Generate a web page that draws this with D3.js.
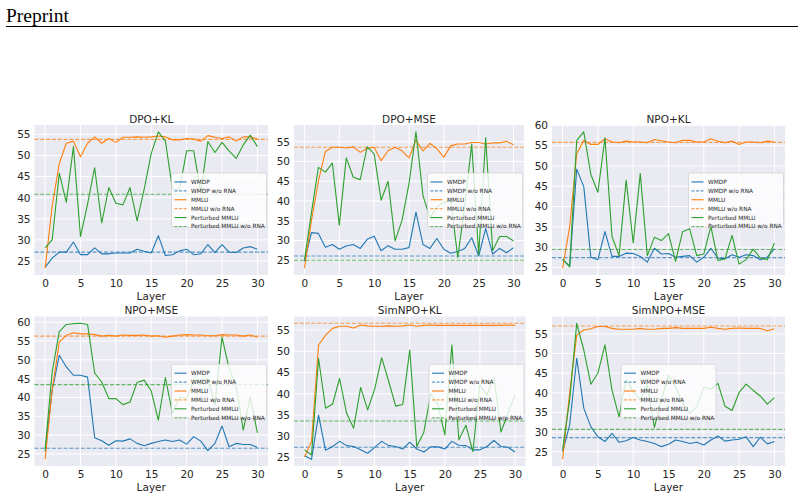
<!DOCTYPE html>
<html>
<head>
<meta charset="utf-8">
<script src="https://cdn.jsdelivr.net/npm/d3@7"></script>
<style>
  body { margin: 0; background: #fff; }
  svg { display: block; }
</style>
</head>
<body>
<svg width="804" height="498"></svg>
<script>
// layers on the x axis
const layers = d3.range(0, 31);

const legendLabels = ["WMDP", "WMDP w/o RNA", "MMLU", "MMLU w/o RNA", "Perturbed MMLU", "Perturbed MMLU w/o RNA"];

// DPO+KL
const dpoKlWmdp = [23.5, 25.7, 27.1, 27.1, 29.5, 26.5, 26.5, 28.1, 26.7, 26.7, 26.9, 26.9, 26.9, 27.8, 27.3, 26.9, 31.0, 26.3, 26.5, 27.4, 27.8, 26.5, 26.7, 28.9, 27.0, 28.9, 27.1, 27.0, 28.1, 28.4, 27.8];
const dpoKlMmlu = [23.3, 38.0, 48.1, 52.9, 53.4, 49.7, 52.9, 54.4, 52.9, 54.0, 53.1, 54.3, 54.3, 54.4, 54.3, 54.4, 54.6, 54.4, 53.7, 53.7, 54.0, 53.9, 53.4, 54.7, 54.3, 54.0, 54.4, 53.4, 54.4, 54.4, 53.9];
const dpoKlPert = [28.1, 30.0, 45.8, 38.9, 52.1, 30.8, 38.5, 47.1, 34.0, 42.4, 38.7, 38.3, 42.4, 34.5, 42.0, 50.5, 55.6, 53.4, 42.0, 42.0, 51.1, 51.1, 41.3, 53.3, 50.7, 53.1, 51.1, 49.3, 52.5, 54.8, 52.1];
const dpoKlBase = [27.1, 53.8, 40.8];

// DPO+MSE
const dpoMseWmdp = [24.7, 32.0, 31.8, 28.3, 29.0, 27.8, 28.6, 29.0, 28.0, 30.3, 31.1, 27.4, 28.7, 27.8, 27.8, 28.2, 37.2, 29.0, 28.0, 30.5, 27.8, 26.8, 27.2, 28.0, 30.7, 26.1, 33.0, 26.6, 28.0, 26.9, 28.2];
const dpoMseMmlu = [23.0, 35.0, 45.0, 52.5, 53.6, 53.6, 53.4, 53.7, 52.3, 53.3, 53.6, 50.2, 52.7, 53.6, 52.7, 50.9, 55.4, 52.7, 54.6, 53.2, 51.1, 54.0, 54.4, 54.4, 54.8, 54.8, 54.4, 54.7, 54.7, 55.1, 54.2];
const dpoMsePert = [25.1, 37.0, 48.5, 47.3, 49.6, 33.9, 50.9, 46.0, 45.4, 53.7, 51.9, 40.2, 45.0, 29.9, 35.1, 44.4, 57.5, 41.4, 35.7, 38.5, 39.7, 40.0, 25.7, 38.9, 54.4, 26.5, 56.0, 27.5, 31.0, 31.0, 29.9];
const dpoMseBase = [26.1, 53.6, 25.0];

// NPO+KL
const npoKlWmdp = [26.9, 25.3, 49.2, 44.9, 27.5, 26.9, 33.8, 27.7, 27.7, 28.5, 28.4, 27.7, 26.3, 29.7, 28.3, 28.4, 27.5, 27.7, 27.9, 26.3, 27.5, 29.7, 27.3, 27.1, 28.1, 27.5, 28.1, 27.9, 26.9, 27.5, 29.6];
const npoKlMmlu = [24.8, 35.0, 53.0, 56.3, 55.3, 55.3, 56.7, 55.9, 55.7, 56.1, 55.9, 55.9, 55.7, 56.5, 56.2, 55.9, 55.7, 56.3, 56.3, 55.9, 55.9, 56.7, 56.1, 55.7, 56.1, 55.3, 55.9, 55.9, 55.7, 56.1, 55.9];
const npoKlPert = [27.1, 25.1, 56.3, 58.4, 47.9, 43.5, 56.9, 32.6, 27.9, 46.5, 31.0, 48.1, 27.9, 32.4, 31.6, 33.3, 26.5, 33.8, 34.5, 27.9, 28.3, 35.1, 26.7, 27.1, 32.9, 25.8, 26.9, 29.5, 27.3, 26.9, 31.0];
const npoKlBase = [27.4, 55.8, 29.4];

// NPO+MSE
const npoMseWmdp = [25.6, 41.9, 51.2, 48.1, 45.9, 45.9, 45.4, 29.3, 28.5, 27.3, 28.5, 28.4, 29.0, 27.8, 27.2, 27.8, 28.3, 28.7, 28.3, 28.7, 27.6, 29.6, 28.4, 25.9, 27.8, 32.4, 26.9, 27.8, 27.5, 27.5, 26.7];
const npoMseMmlu = [23.6, 42.0, 54.7, 56.5, 57.2, 56.9, 56.9, 56.7, 56.3, 56.5, 56.3, 56.6, 56.5, 56.5, 56.6, 56.3, 56.4, 56.0, 56.3, 56.6, 56.7, 56.6, 56.6, 56.4, 56.4, 56.7, 56.6, 56.6, 56.3, 56.6, 56.0];
const npoMsePert = [26.2, 46.8, 57.5, 59.4, 59.6, 59.7, 59.4, 46.5, 44.1, 39.7, 39.7, 38.1, 38.8, 44.0, 44.6, 41.7, 34.0, 45.3, 35.7, 40.2, 39.7, 44.6, 44.1, 45.0, 38.0, 56.0, 47.7, 43.0, 31.3, 40.2, 30.6];
const npoMseBase = [26.5, 56.3, 43.4];

// SimNPO+KL
const simKlWmdp = [25.4, 24.6, 35.0, 26.7, 27.6, 28.8, 27.8, 27.6, 26.8, 26.0, 27.4, 28.8, 27.8, 27.6, 27.0, 28.6, 27.0, 26.3, 27.5, 27.5, 27.0, 28.8, 27.9, 27.8, 26.8, 26.8, 27.6, 29.0, 27.6, 27.4, 26.3];
const simKlMmlu = [25.2, 28.8, 51.5, 53.8, 55.4, 55.9, 55.9, 55.5, 56.2, 56.0, 55.9, 55.9, 56.0, 55.9, 56.0, 56.2, 55.9, 56.1, 56.2, 56.1, 56.1, 56.1, 56.1, 56.1, 56.1, 56.1, 56.1, 56.1, 56.1, 56.2, 56.1];
const simKlPert = [26.8, 25.6, 48.3, 36.6, 37.6, 43.6, 35.4, 31.9, 41.5, 36.2, 41.1, 48.5, 42.9, 37.1, 37.5, 50.3, 27.6, 30.9, 40.0, 37.5, 30.3, 51.5, 29.2, 32.6, 26.4, 42.1, 39.7, 43.9, 31.0, 35.4, 39.7];
const simKlBase = [27.4, 56.6, 33.6];

// SimNPO+MSE
const simMseWmdp = [25.0, 31.8, 48.8, 36.1, 31.4, 28.8, 27.6, 29.7, 27.4, 27.8, 28.6, 28.0, 27.6, 27.1, 26.3, 26.9, 28.0, 27.6, 27.1, 27.4, 26.7, 28.0, 29.0, 27.7, 28.0, 28.2, 28.8, 26.3, 28.7, 27.0, 27.6];
const simMseMmlu = [23.1, 40.0, 54.7, 56.0, 56.3, 56.9, 56.9, 56.4, 56.2, 56.2, 56.2, 56.4, 56.2, 56.2, 56.4, 56.4, 56.6, 56.4, 56.4, 56.4, 56.4, 56.7, 56.4, 56.2, 56.4, 56.5, 56.4, 56.4, 56.4, 55.8, 56.3];
const simMsePert = [25.6, 38.2, 57.7, 50.9, 42.2, 45.0, 52.2, 40.7, 33.9, 43.4, 40.3, 38.2, 42.0, 31.2, 38.2, 44.5, 41.6, 37.3, 34.8, 36.5, 41.4, 40.9, 42.4, 36.6, 35.5, 40.1, 42.2, 40.6, 39.2, 37.1, 38.8];
const simMseBase = [28.6, 57.0, 30.7];

const panels = [
  { title: "DPO+KL", series: [dpoKlWmdp, dpoKlMmlu, dpoKlPert], base: dpoKlBase, x: 34.5, y: 125, w: 233.5, h: 150, legend: "right" },
  { title: "DPO+MSE", series: [dpoMseWmdp, dpoMseMmlu, dpoMsePert], base: dpoMseBase, x: 294, y: 125, w: 230, h: 150, legend: "right" },
  { title: "NPO+KL", series: [npoKlWmdp, npoKlMmlu, npoKlPert], base: npoKlBase, x: 552, y: 125, w: 233, h: 150, legend: "right" },
  { title: "NPO+MSE", series: [npoMseWmdp, npoMseMmlu, npoMsePert], base: npoMseBase, x: 34.5, y: 316.5, w: 233.5, h: 149.5, legend: "right" },
  { title: "SimNPO+KL", series: [simKlWmdp, simKlMmlu, simKlPert], base: simKlBase, x: 294, y: 316.5, w: 231.5, h: 149.5, legend: "right" },
  { title: "SimNPO+MSE", series: [simMseWmdp, simMseMmlu, simMsePert], base: simMseBase, x: 552, y: 316.5, w: 233, h: 149.5, legend: "center" },
];

const colors = ["#1f77b4", "#ff7f0e", "#2ca02c"];
const textColor = "#262626";
const font = "'DejaVu Sans', sans-serif";

const svg = d3.select("svg");

// page header
svg.append("text")
  .attr("x", 6)
  .attr("y", 22)
  .attr("font-family", "'Liberation Serif', 'Times New Roman', serif")
  .attr("font-size", 19.5)
  .attr("fill", "#000")
  .text("Preprint");
svg.append("line")
  .attr("x1", 6).attr("x2", 798)
  .attr("y1", 26.5).attr("y2", 26.5)
  .attr("stroke", "#000")
  .attr("stroke-width", 1);

panels.forEach((p) => {
  const g = svg.append("g").attr("transform", `translate(${p.x}, ${p.y})`);

  const all = p.series.flat().concat(p.base);
  const lo = d3.min(all), hi = d3.max(all);
  const pad = (hi - lo) * 0.05;

  const xScale = d3.scaleLinear().domain([-1.5, 31.5]).range([0, p.w]);
  const yScale = d3.scaleLinear().domain([lo - pad, hi + pad]).range([p.h, 0]);

  const yTicks = d3.range(Math.ceil((lo - pad) / 5) * 5, hi + pad, 5);
  const xTicks = [0, 5, 10, 15, 20, 25, 30];

  g.append("rect")
    .attr("width", p.w)
    .attr("height", p.h)
    .attr("fill", "#eaeaf2");

  // grid
  g.selectAll(".gy").data(yTicks).enter().append("line")
    .attr("x1", 0).attr("x2", p.w)
    .attr("y1", (d) => yScale(d)).attr("y2", (d) => yScale(d))
    .attr("stroke", "#fff").attr("stroke-width", 1);
  g.selectAll(".gx").data(xTicks).enter().append("line")
    .attr("y1", 0).attr("y2", p.h)
    .attr("x1", (d) => xScale(d)).attr("x2", (d) => xScale(d))
    .attr("stroke", "#fff").attr("stroke-width", 1);

  // axes (no spines, no tick marks, like seaborn darkgrid)
  const yAxis = g.append("g").call(d3.axisLeft(yScale).tickValues(yTicks).tickSize(0).tickPadding(4));
  const xAxis = g.append("g").attr("transform", `translate(0, ${p.h})`)
    .call(d3.axisBottom(xScale).tickValues(xTicks).tickSize(0).tickPadding(5));
  [yAxis, xAxis].forEach((a) => {
    a.select(".domain").remove();
    a.selectAll("text")
      .attr("font-family", font)
      .attr("font-size", 10.5)
      .attr("fill", textColor);
  });

  const line = d3.line()
    .x((d, i) => xScale(layers[i]))
    .y((d) => yScale(d));

  p.series.forEach((s, k) => {
    g.append("path")
      .datum(s)
      .attr("d", line)
      .attr("fill", "none")
      .attr("stroke", colors[k])
      .attr("stroke-width", 1.1)
      .attr("stroke-linejoin", "round");
    g.append("line")
      .attr("x1", 0).attr("x2", p.w)
      .attr("y1", yScale(p.base[k])).attr("y2", yScale(p.base[k]))
      .attr("stroke", colors[k])
      .attr("stroke-width", 1.1)
      .attr("stroke-dasharray", "4,1.8")
      .attr("opacity", 0.7);
  });

  g.append("text")
    .attr("x", p.w / 2)
    .attr("y", -2.5)
    .attr("text-anchor", "middle")
    .attr("font-family", font)
    .attr("font-size", 10.5)
    .attr("fill", textColor)
    .text(p.title);

  g.append("text")
    .attr("x", p.w / 2)
    .attr("y", p.h + 25)
    .attr("text-anchor", "middle")
    .attr("font-family", font)
    .attr("font-size", 10.5)
    .attr("fill", textColor)
    .text("Layer");

  // legend
  const lw = 95, lh = 54, rowH = 8.9;
  const lx = p.legend === "center" ? (p.w - lw) / 2 : p.w - lw - 1.5;
  const ly = (p.h - lh) / 2;
  const lg = g.append("g").attr("transform", `translate(${lx}, ${ly})`);
  lg.append("rect")
    .attr("width", lw).attr("height", lh)
    .attr("rx", 2)
    .attr("fill", "#fff").attr("fill-opacity", 0.8)
    .attr("stroke", "#cccccc").attr("stroke-opacity", 0.8)
    .attr("stroke-width", 0.8);
  legendLabels.forEach((lab, i) => {
    const cy = 5 + rowH * i + rowH / 2 - 0.5;
    lg.append("line")
      .attr("x1", 3).attr("x2", 15)
      .attr("y1", cy).attr("y2", cy)
      .attr("stroke", colors[Math.floor(i / 2)])
      .attr("stroke-width", 1.1)
      .attr("stroke-dasharray", i % 2 ? "3,1.5" : null)
      .attr("opacity", i % 2 ? 0.7 : 1);
    lg.append("text")
      .attr("x", 19.5)
      .attr("y", cy + 2)
      .attr("font-family", font)
      .attr("font-size", 5.8)
      .attr("fill", textColor)
      .text(lab);
  });
});
</script>
</body>
</html>
